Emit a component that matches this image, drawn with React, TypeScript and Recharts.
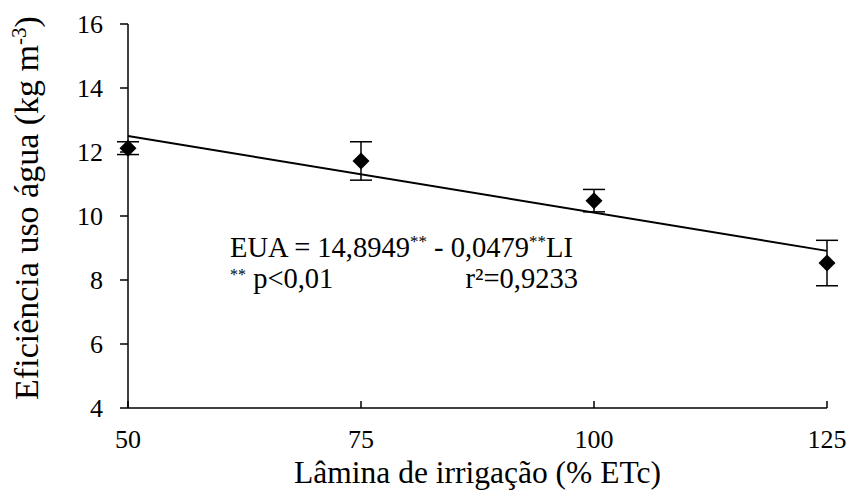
import { Customized, ErrorBar, Label, Scatter, ScatterChart, XAxis, YAxis } from "recharts";

const FONT = "Liberation Serif";

// irrigation depth (% ETc), water use efficiency and its error
const lamina = [50, 75, 100, 125];
const eficiencia = [12.12, 11.72, 10.48, 8.53];
const erro = [0.2, 0.6, 0.35, 0.71];

// fitted line end points
const trendX = [50, 125];
const trendY = [12.5, 8.91];

const xTicks = [50, 75, 100, 125];
const yTicks = [4, 6, 8, 10, 12, 14, 16];

const points = lamina.map((x, i) => ({ x, y: eficiencia[i], err: erro[i] }));
const trend = trendX.map((x, i) => ({ x, y: trendY[i] }));

const Diamond = (props: any) => {
  const { cx, cy } = props;
  if (cx == null || cy == null) return null;
  const r = 8.5;
  return <polygon points={`${cx},${cy - r} ${cx + r},${cy} ${cx},${cy + r} ${cx - r},${cy}`} fill="#000" />;
};

const tickStyle = { fontSize: 26, fill: "#000", fontFamily: FONT };

function Annotation() {
  return (
    <g fill="#000" fontSize={28.5} fontFamily={FONT}>
      <text x={230} y={257}>
        EUA = 14,8949<tspan dy={-10} fontSize={17}>**</tspan>
        <tspan dy={10}> - 0,0479</tspan>
        <tspan dy={-10} fontSize={17}>**</tspan>
        <tspan dy={10}>LI</tspan>
      </text>
      <text x={230} y={288}>
        <tspan dy={-8} fontSize={16}>**</tspan>
        <tspan dy={8}> p&lt;0,01</tspan>
      </text>
      <text x={578} y={288} textAnchor="end">
        r²=0,9233
      </text>
    </g>
  );
}

export default function App() {
  return (
    <div style={{ position: "absolute", left: 0, top: 0, background: "#fff" }}>
      <ScatterChart width={848} height={497} margin={{ top: 24, right: 21, bottom: 0, left: 0 }}>
        <XAxis
          type="number"
          dataKey="x"
          domain={[50, 125]}
          ticks={xTicks}
          height={89}
          axisLine={{ stroke: "#000", strokeWidth: 1.5 }}
          tickLine={{ stroke: "#000", strokeWidth: 1.5 }}
          tickSize={-7}
          tickMargin={29}
          tick={tickStyle}
        >
          <Label
            value="Lâmina de irrigação (% ETc)"
            position="insideBottom"
            offset={14}
            fontFamily={FONT}
            style={{ fontSize: 31.5, fill: "#000" }}
          />
        </XAxis>
        <YAxis
          type="number"
          dataKey="y"
          domain={[4, 16]}
          ticks={yTicks}
          width={128}
          axisLine={{ stroke: "#000", strokeWidth: 1.5 }}
          tickLine={{ stroke: "#000", strokeWidth: 1.5 }}
          tickSize={8}
          tickMargin={17}
          tick={tickStyle}
          label={{
            content: () => (
              <text
                transform="translate(38, 208) rotate(-90)"
                textAnchor="middle"
                fontSize={34}
                fontFamily={FONT}
                fill="#000"
              >
                Eficiência uso água (kg m<tspan dy={-12} fontSize={21}>-3</tspan>
                <tspan dy={12}>)</tspan>
              </text>
            ),
          }}
        />
        <Scatter
          data={trend}
          line={{ stroke: "#000", strokeWidth: 2 }}
          shape={() => null}
          isAnimationActive={false}
        />
        <Scatter data={points} shape={Diamond} isAnimationActive={false}>
          <ErrorBar dataKey="err" direction="y" width={11} stroke="#000" strokeWidth={1.5} />
        </Scatter>
        <Customized component={Annotation} />
      </ScatterChart>
    </div>
  );
}
